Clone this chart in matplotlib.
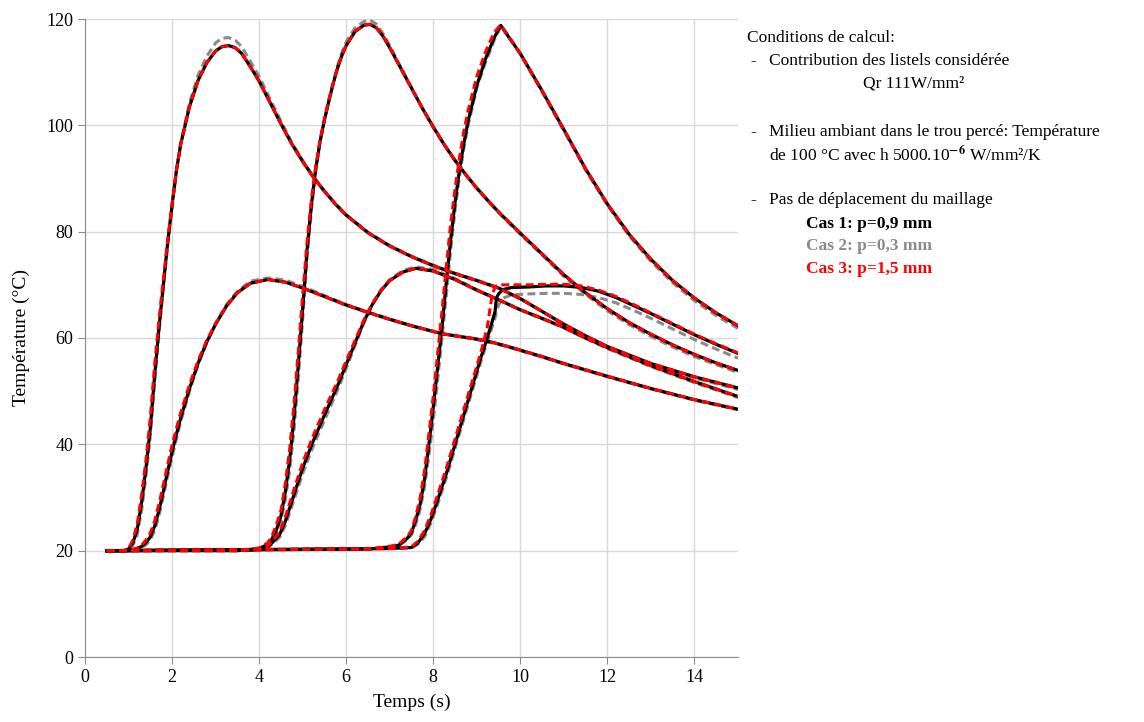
import matplotlib
matplotlib.use("Agg")
import matplotlib.pyplot as plt

plt.rcParams['font.family'] = ['Liberation Serif', 'DejaVu Serif']
plt.rcParams['mathtext.fontset'] = 'stix'

# --- data (time in s, temperature in degC) ---
# high peak 1
h1_t = [0.5, 0.9, 1.0, 1.1, 1.2, 1.3, 1.4, 1.5, 1.6, 1.7, 1.8, 1.9, 2.0, 2.1, 2.2, 2.4, 2.6, 2.8,
        3.0, 3.15, 3.3, 3.45, 3.6, 3.8, 4.0, 4.25, 4.5, 4.75, 5.0, 5.25, 5.5, 5.75, 6.0, 6.5, 7.0,
        7.5, 8.0, 8.5, 9.0, 9.5, 10.0, 10.5, 11.0, 11.5, 12.0, 13.0, 14.0, 15.0]
h1_cas1 = [20, 20, 20.3, 21.5, 24, 29, 35.5, 43, 53, 62, 70, 78, 85, 91.5, 96.5, 103.5, 108.5, 111.8,
           114, 114.8, 115, 114.6, 113.5, 111, 108.3, 104.3, 100.3, 96.5, 93.2, 90.2, 87.6, 85.2, 83.1, 79.8, 77.3,
           75.3, 73.6, 72.1, 70.8, 69.4, 67.4, 65, 62.6, 60.4, 58.4, 55.2, 52.7, 50.6]
h1_cas2 = [20, 20, 20.2, 21, 23, 27.5, 34, 41.5, 51.5, 61, 69.5, 77.5, 84.5, 91.5, 96.8, 104.2, 109.5, 113,
           115.5, 116.4, 116.5, 116, 114.8, 112, 109.2, 105, 100.8, 96.8, 93.4, 90.3, 87.7, 85.3, 83.2, 79.9, 77.4,
           75.4, 73.7, 72.2, 70.9, 69.4, 67.4, 65, 62.5, 60.3, 58.3, 55, 52.5, 50.3]
h1_cas3 = [20, 20, 20.4, 22, 25, 30.5, 37, 45, 55, 63.5, 71, 78.5, 85.2, 91.5, 96.5, 103.5, 108.5, 111.8,
           114, 114.8, 115, 114.6, 113.5, 111, 108.3, 104.3, 100.3, 96.5, 93.2, 90.2, 87.6, 85.2, 83.1, 79.8, 77.3,
           75.3, 73.6, 72.1, 70.8, 69.4, 67.4, 65, 62.6, 60.4, 58.4, 55.2, 52.7, 50.6]

# high peak 2
h2_t = [0.5, 3.5, 4.0, 4.2, 4.3, 4.4, 4.5, 4.6, 4.7, 4.8, 4.9, 5.0, 5.1, 5.2, 5.3, 5.4, 5.5, 5.6, 5.7, 5.8,
        5.9, 6.0, 6.2, 6.4, 6.55, 6.7, 6.85, 7.0, 7.25, 7.5, 7.75, 8.0, 8.25, 8.5, 8.75, 9.0, 9.25, 9.5, 9.75,
        10.0, 10.5, 11.0, 11.5, 12.0, 12.5, 13.0, 13.5, 14.0, 14.5, 15.0]
h2_cas1 = [20, 20, 20.4, 21.2, 22.3, 24, 26.5, 31, 37, 45, 55, 65.5, 76.5, 85, 91.8, 97, 101, 104.5, 107.8, 110.7,
           113.1, 115, 117.6, 118.8, 119, 118.3, 116.7, 114.6, 110.8, 107, 103.2, 99.7, 96.4, 93.4, 90.7, 88.2, 85.9, 83.7, 81.7,
           79.7, 75.8, 71.9, 68.5, 65.5, 62.9, 60.7, 58.7, 56.9, 55.3, 53.9]
h2_cas2 = [20, 20, 20.3, 21, 22, 23.5, 25.5, 29.5, 35, 42.5, 52.5, 63.5, 75, 84, 91.3, 96.8, 101, 104.7, 108.1, 111.2,
           113.7, 115.7, 118.3, 119.5, 119.8, 119, 117.2, 115, 111, 107.1, 103.2, 99.6, 96.3, 93.3, 90.6, 88.1, 85.8, 83.6, 81.5,
           79.5, 75.6, 71.6, 68.2, 65.1, 62.5, 60.3, 58.3, 56.5, 55, 53.5]
h2_cas3 = [20, 20, 20.5, 21.5, 22.8, 25, 27.5, 32.5, 39, 47.5, 57.5, 68, 78, 86, 92.3, 97.3, 101.2, 104.7, 107.9, 110.8,
           113.2, 115.1, 117.7, 118.9, 119, 118.3, 116.7, 114.6, 110.8, 107, 103.2, 99.7, 96.4, 93.4, 90.7, 88.2, 85.9, 83.7, 81.7,
           79.7, 75.8, 71.9, 68.5, 65.5, 62.9, 60.7, 58.7, 56.9, 55.3, 53.9]

# high peak 3
h3_t = [0.5, 6.5, 7.0, 7.2, 7.4, 7.5, 7.6, 7.7, 7.8, 7.9, 8.0, 8.1, 8.2, 8.3, 8.4, 8.5, 8.6, 8.7, 8.8,
        9.0, 9.2, 9.4, 9.55, 9.7, 10.0, 10.5, 11.0, 11.5, 12.0, 12.5, 13.0, 13.5, 14.0, 14.5, 15.0]
h3_cas1 = [20, 20.3, 20.7, 21.0, 22.3, 23.4, 25.8, 28.8, 33.5, 40, 47, 54.5, 62, 70.5, 78.5, 85.5, 91.5, 96.5, 100.8,
           107.5, 112.5, 116.5, 118.8, 117, 113.5, 106.5, 99.2, 91.8, 85.2, 79.5, 74.8, 70.8, 67.5, 64.7, 62.3]
h3_cas2 = [20, 20.3, 20.6, 20.9, 22, 23, 25, 27.8, 32, 38, 44.5, 52, 60, 68, 76.5, 84, 90.2, 95.5, 100,
           107, 111.8, 116, 118.6, 117.2, 113.4, 106.3, 99, 91.6, 85, 79.2, 74.4, 70.4, 67, 64.2, 61.8]
h3_cas3 = [20, 20.3, 20.8, 21.2, 22.6, 23.8, 26.5, 30, 35, 42, 49, 57, 65, 73.5, 81.5, 88, 93.8, 98.8, 102.8,
           109.2, 113.8, 117.5, 118.9, 117, 113.5, 106.5, 99.2, 91.8, 85.2, 79.5, 74.8, 70.8, 67.5, 64.7, 62.3]

# low peak 1
l1_t = [0.5, 1.0, 1.2, 1.3, 1.4, 1.5, 1.6, 1.7, 1.8, 1.9, 2.0, 2.1, 2.2, 2.4, 2.6, 2.8, 3.0, 3.25, 3.5, 3.8,
        4.2, 4.6, 5.0, 5.5, 6.0, 6.5, 7.0, 7.5, 8.2, 9.0, 9.4, 9.8, 10.5, 11.0, 12.0, 13.0, 14.0, 15.0]
l1_cas1 = [20, 20, 20.4, 20.8, 21.5, 22.6, 24.6, 27.6, 31.2, 35, 38.6, 41.9, 45, 50.5, 55.3, 59.3, 62.6, 66, 68.5, 70.3,
           71, 70.5, 69.4, 67.8, 66.2, 64.8, 63.5, 62.3, 60.8, 59.8, 59.1, 58.2, 56.5, 55.2, 52.8, 50.5, 48.4, 46.6]
l1_cas2 = [20, 20, 20.3, 20.6, 21.1, 22, 23.8, 26.6, 30.2, 34, 37.6, 41, 44.3, 50, 55, 59.2, 62.7, 66.3, 68.8, 70.7,
           71.3, 70.9, 69.7, 68, 66.3, 64.9, 63.6, 62.3, 60.8, 59.7, 59, 58.1, 56.4, 55.1, 52.7, 50.4, 48.3, 46.5]
l1_cas3 = [20, 20, 20.5, 21, 22, 23.3, 25.6, 28.8, 32.4, 36.2, 39.8, 43, 46, 51.2, 55.8, 59.6, 62.7, 66, 68.5, 70.3,
           71, 70.5, 69.4, 67.8, 66.2, 64.8, 63.5, 62.3, 60.8, 59.8, 59.1, 58.2, 56.5, 55.2, 52.8, 50.5, 48.4, 46.6]

# low peak 2
l2_t = [0.5, 3.8, 4.17, 4.3, 4.47, 4.6, 4.8, 5.0, 5.21, 5.5, 5.8, 6.0, 6.2, 6.4, 6.6, 6.8, 7.0, 7.3, 7.6,
        8.0, 8.5, 9.0, 9.5, 10.0, 10.5, 11.0, 11.5, 12.0, 13.0, 14.0, 15.0]
l2_cas1 = [20, 20.1, 20.5, 21.5, 23, 25.5, 30.5, 35.5, 40, 45.5, 51, 55, 59, 63, 66.3, 68.9, 70.8, 72.4, 73.1,
           72.6, 71, 69, 67.2, 65.3, 63.7, 62, 60, 58.2, 54.8, 51.8, 49]
l2_cas2 = [20, 20.1, 20.4, 21.2, 22.5, 24.7, 29.5, 34.5, 39, 44.5, 50.2, 54.3, 58.5, 62.7, 66.2, 69, 71, 72.7, 73.4,
           72.9, 71.2, 69.1, 67.2, 65.3, 63.6, 61.9, 59.9, 58, 54.6, 51.6, 48.8]
l2_cas3 = [20, 20.1, 20.6, 21.8, 23.5, 26.3, 31.5, 36.5, 41, 46.5, 51.8, 55.7, 59.5, 63.3, 66.5, 69, 70.8, 72.4, 73.1,
           72.6, 71, 69, 67.2, 65.3, 63.7, 62, 60, 58.2, 54.8, 51.8, 49]

# low curve 3 (plateau)
l3_t = [0.5, 7.0, 7.5, 7.65, 7.8, 7.95, 8.1, 8.3, 8.5, 8.7, 8.9, 9.1, 9.24, 9.35, 9.42, 9.45, 9.5, 9.6, 9.8,
        10.2, 10.6, 11.0, 11.4, 11.8, 12.2, 12.6, 13.0, 13.5, 14.0, 14.5, 15.0]
l3_cas1 = [20, 20.4, 20.6, 21.5, 23.2, 26, 29.5, 34.5, 40, 45.5, 51, 56.5, 60, 63, 65, 67.5, 68.3, 69.1, 69.5,
           69.6, 69.8, 69.8, 69.5, 68.8, 67.6, 66.1, 64.6, 62.6, 60.6, 58.8, 57.1]
l3_cas2 = [20, 20.4, 20.5, 21.2, 22.6, 25.3, 28.7, 33.7, 39.2, 44.7, 50.2, 55.7, 59.2, 62, 63.8, 64.8, 66.2, 67.5, 68.1,
           68.3, 68.4, 68.4, 68.2, 67.6, 66.6, 65.2, 63.7, 61.7, 59.7, 57.9, 56.2]
l3_cas3 = [20, 20.4, 20.7, 21.8, 23.8, 26.8, 30.5, 35.5, 41, 46.5, 52, 57.5, 62, 68, 69.6, 69.8, 69.9, 70, 70,
           70, 70.1, 70.1, 69.8, 69, 67.8, 66.3, 64.7, 62.7, 60.7, 58.9, 57.2]

times = [h1_t, h2_t, h3_t, l1_t, l2_t, l3_t]
cas1 = [h1_cas1, h2_cas1, h3_cas1, l1_cas1, l2_cas1, l3_cas1]
cas2 = [h1_cas2, h2_cas2, h3_cas2, l1_cas2, l2_cas2, l3_cas2]
cas3 = [h1_cas3, h2_cas3, h3_cas3, l1_cas3, l2_cas3, l3_cas3]

fig = plt.figure(figsize=(11.44, 7.22), dpi=100)
ax = fig.add_axes([85 / 1144, 65 / 722, 653 / 1144, 638 / 722])

# gray first, black over it, red dashes on top
for t, T in zip(times, cas2):
    ax.plot(t, T, color='#8a8a8a', lw=2.2, ls=(0, (2.6, 1.4)), zorder=3)
for t, T in zip(times, cas1):
    ax.plot(t, T, color='black', lw=2.3, ls='-', zorder=4)
for t, T in zip(times, cas3):
    ax.plot(t, T, color='#ff0000', lw=2.2, ls=(0, (2.6, 1.4)), zorder=5)

ax.set_xlim(0, 15)
ax.set_ylim(0, 120)
ax.set_xticks(range(0, 15, 2))
ax.set_yticks(range(0, 121, 20))
ax.grid(True, color='#d9d9d9', lw=1)
ax.set_axisbelow(True)
for s in ['top', 'right']:
    ax.spines[s].set_visible(False)
for s in ['left', 'bottom']:
    ax.spines[s].set_color('#8c8c8c')
ax.tick_params(axis='both', colors='#8c8c8c', labelcolor='black', labelsize=13, length=5)
ax.set_xlabel('Temps (s)', fontsize=14, labelpad=6)
ax.set_ylabel('Température (°C)', fontsize=14, labelpad=12)

# annotation block on the right
def put(x, y, s, **kw):
    fig.text(x / 1144, 1 - y / 722, s, va='center', ha='left', fontsize=12.5, **kw)

put(747, 38, 'Conditions de calcul:')
put(750, 61, '-')
put(769, 61, 'Contribution des listels considérée')
put(863, 83, 'Qr 111W/mm²')
put(750, 132, '-')
put(769, 132, 'Milieu ambiant dans le trou percé: Température')
put(769, 155, 'de 100 °C avec h 5000.10$^{\\mathbf{-6}}$ W/mm²/K')
put(750, 200, '-')
put(769, 200, 'Pas de déplacement du maillage')
put(806, 224, 'Cas 1: p=0,9 mm', fontweight='bold', color='black')
put(806, 246, 'Cas 2: p=0,3 mm', fontweight='bold', color='#8a8a8a')
put(806, 269, 'Cas 3: p=1,5 mm', fontweight='bold', color='#ff0000')

fig.savefig('out.png', dpi=100)
